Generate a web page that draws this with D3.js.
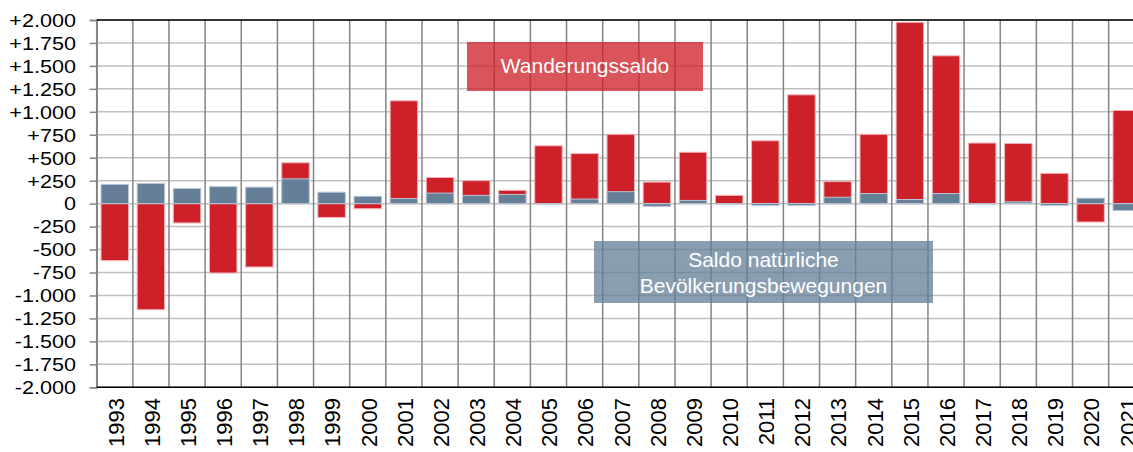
<!DOCTYPE html>
<html>
<head>
<meta charset="utf-8">
<script src="https://cdn.jsdelivr.net/npm/d3@7"></script>
<style>
  body { margin: 0; background: #fff; }
  text { font-family: "Liberation Sans", Arial, sans-serif; }
</style>
</head>
<body>
<div id="chart"></div>
<script>
// Data
const years = [1993,1994,1995,1996,1997,1998,1999,2000,2001,2002,2003,2004,2005,2006,2007,
               2008,2009,2010,2011,2012,2013,2014,2015,2016,2017,2018,2019,2020,2021]
// Wanderungssaldo (red)
const migration = [-620,-1155,-210,-755,-690,445,-150,-55,1120,285,250,145,630,545,755,
                   235,560,90,685,1185,240,755,1975,1610,660,655,330,-200,1015]
// Saldo natuerliche Bevoelkerungsbewegungen (blue)
const natural = [210,220,165,185,180,270,125,80,55,115,90,100,-5,50,130,
                 -30,35,-5,-20,-20,70,110,45,110,-3,20,-20,60,-75]
const yTicks = [2000,1750,1500,1250,1000,750,500,250,0,-250,-500,-750,-1000,-1250,-1500,-1750,-2000]

const labelRed = "Wanderungssaldo"
const labelBlue = ["Saldo natürliche", "Bevölkerungsbewegungen"]

// Initialize
var width = 1133
var height = 452
var plotLeft = 96.7
var plotRight = 1144.8
var plotTop = 20
var plotBottom = 387.3

const red = "#cd2028"
const blue = "#657f99"

const svg = d3.select('#chart').append('svg')
  .attr("width", width)
  .attr("height", height)
  .style("display", "block")

const x = d3.scaleBand()
  .domain(years)
  .range([plotLeft, plotRight])
  .paddingInner(0.24)
  .paddingOuter(0.12)

const y = d3.scaleLinear()
  .domain([-2000, 2000])
  .range([plotBottom, plotTop])

const fmt = d3.formatLocale({decimal: ",", thousands: ".", grouping: [3], currency: ["", "€"], minus: "-"}).format("+,d")

// Horizontal grid
svg.append("g")
  .selectAll("line")
  .data(yTicks)
  .enter()
  .append("line")
  .attr("x1", plotLeft)
  .attr("x2", width)
  .attr("y1", d => y(d))
  .attr("y2", d => y(d))
  .attr("stroke", "#c0c0c0")
  .attr("stroke-width", 1.5)

// Vertical grid (band borders)
const step = x.step()
svg.append("g")
  .selectAll("line")
  .data(d3.range(years.length + 1))
  .enter()
  .append("line")
  .attr("x1", i => plotLeft + i * step)
  .attr("x2", i => plotLeft + i * step)
  .attr("y1", plotTop)
  .attr("y2", plotBottom)
  .attr("stroke", "#858585")
  .attr("stroke-width", 1.5)

// Y axis
const yAxis = svg.append("g")
  .attr("transform", "translate(" + plotLeft + ",0)")
  .call(d3.axisLeft(y).tickValues(yTicks).tickSize(7).tickFormat(d => d === 0 ? "0" : fmt(d)))

yAxis.select(".domain").attr("stroke", "#858585").attr("stroke-width", 1.5)
yAxis.selectAll(".tick line").attr("stroke", "#858585").attr("stroke-width", 1.5)
yAxis.selectAll(".tick text")
  .attr("x", -17.3)
  .attr("dy", "0.35em")
  .attr("transform", "scale(1.2,1)")
  .attr("font-size", 18)
  .attr("fill", "#000")
  .style("font-family", "'Liberation Sans', Arial, sans-serif")

// Annotation boxes (behind bars)
svg.append("rect")
  .attr("x", 467).attr("y", 42)
  .attr("width", 236).attr("height", 49)
  .attr("fill", red).attr("opacity", 0.76)
svg.append("text")
  .attr("x", 585).attr("y", 73)
  .attr("text-anchor", "middle")
  .attr("font-size", 21)
  .attr("fill", "#fff")
  .text(labelRed)

svg.append("rect")
  .attr("x", 594).attr("y", 241)
  .attr("width", 339).attr("height", 62)
  .attr("fill", blue).attr("opacity", 0.76)
svg.append("g")
  .selectAll("text")
  .data(labelBlue)
  .enter()
  .append("text")
  .attr("x", 763.5)
  .attr("y", (d, i) => 266.5 + i * 26)
  .attr("text-anchor", "middle")
  .attr("font-size", 21)
  .attr("fill", "#fff")
  .text(d => d)

// Red bars
svg.append("g")
  .selectAll("rect")
  .data(years)
  .enter()
  .append("rect")
  .attr("x", d => x(d))
  .attr("width", x.bandwidth())
  .attr("y", (d, i) => y(Math.max(0, migration[i])))
  .attr("height", (d, i) => Math.abs(y(migration[i]) - y(0)))
  .attr("fill", red)
  .attr("stroke", "#f2b3b6")
  .attr("stroke-width", 1)

// Blue bars on top
svg.append("g")
  .selectAll("rect")
  .data(years)
  .enter()
  .append("rect")
  .attr("x", d => x(d))
  .attr("width", x.bandwidth())
  .attr("y", (d, i) => y(Math.max(0, natural[i])))
  .attr("height", (d, i) => Math.abs(y(natural[i]) - y(0)))
  .attr("fill", blue)
  .attr("stroke", "#b9c7d6")
  .attr("stroke-width", 1)

// Top and bottom border
svg.append("line")
  .attr("x1", plotLeft).attr("x2", width)
  .attr("y1", plotTop).attr("y2", plotTop)
  .attr("stroke", "#000").attr("stroke-width", 1.5)
svg.append("line")
  .attr("x1", plotLeft).attr("x2", width)
  .attr("y1", plotBottom).attr("y2", plotBottom)
  .attr("stroke", "#000").attr("stroke-width", 1.5)

// X labels
svg.append("g")
  .selectAll("text")
  .data(years)
  .enter()
  .append("text")
  .attr("transform", d => "translate(" + (x(d) + x.bandwidth() / 2) + ",398) rotate(-90)")
  .attr("text-anchor", "end")
  .attr("dy", "0.4em")
  .attr("font-size", 22)
  .attr("fill", "#000")
  .text(d => d)
</script>
</body>
</html>
